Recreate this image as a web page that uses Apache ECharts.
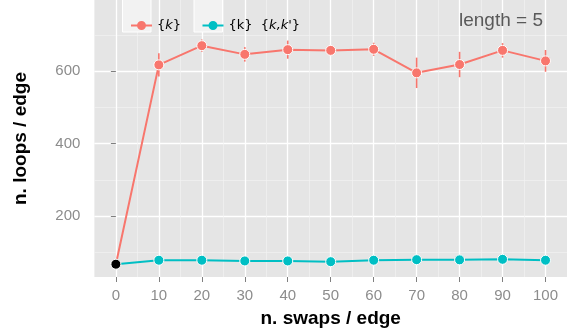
<!DOCTYPE html>
<html>
<head>
<meta charset="utf-8">
<script src="https://cdn.jsdelivr.net/npm/echarts@6/dist/echarts.min.js"></script>
<style>
  html, body { margin: 0; padding: 0; background: #ffffff; }
  #chart { width: 567px; height: 336px; }
</style>
</head>
<body>
<div id="chart"></div>
<script>
// Swaps per edge (x) and mean loops per edge with spread, per null model
var swaps = [0, 10, 20, 30, 40, 50, 60, 70, 80, 90, 100];
var loopsK = [67, 617, 670, 646, 659, 657, 660, 595, 618, 657, 628];
var errK = [0, 32, 17, 20, 25, 10, 18, 42, 35, 20, 30];
var loopsKK = [67, 78, 78, 76, 76, 74, 78, 79.5, 79, 80.5, 78];
var errKK = [0, 3, 3, 3, 3, 3, 3, 3, 3, 3, 3];

var xMajor = [0, 10, 20, 30, 40, 50, 60, 70, 80, 90, 100];
var xMinor = [5, 15, 25, 35, 45, 55, 65, 75, 85, 95];
var yMajor = [200, 400, 600];
var yMinor = [100, 300, 500, 700];

var RED = '#F8766D';
var CYAN = '#00BFC4';
var FONT = 'Liberation Sans, Arial, Helvetica, sans-serif';
var LEGEND_FONT = 'DejaVu Sans, Verdana, sans-serif';
// legend key glyph: a short line with a dot in the middle
var KEY_ICON = 'path://M0,4.1 L21,4.1 L21,5.9 L0,5.9 Z M15,5 A4.5,4.5 0 1 1 6,5 A4.5,4.5 0 1 1 15,5 Z';

function pointData(vals) {
  return swaps.map(function (s, i) {
    var d = { value: [s, vals[i]] };
    if (i === 0) d.itemStyle = { color: '#000000' };
    return d;
  });
}

function errData(vals, errs) {
  return swaps.map(function (s, i) { return [s, vals[i] - errs[i], vals[i] + errs[i]]; });
}

function errorBars(color) {
  return function (params, api) {
    var lo = api.coord([api.value(0), api.value(1)]);
    var hi = api.coord([api.value(0), api.value(2)]);
    return {
      type: 'line',
      shape: { x1: lo[0], y1: lo[1], x2: hi[0], y2: hi[1] },
      style: { stroke: color, lineWidth: 1.6 }
    };
  };
}

function legendText() {
  return { fontFamily: LEGEND_FONT, fontSize: 13, color: '#000',
    rich: { i: { fontStyle: 'italic', fontSize: 13, fontFamily: LEGEND_FONT, color: '#000' } } };
}

var chart = echarts.init(document.getElementById('chart'), null, { renderer: 'canvas' });

chart.setOption({
  animation: false,
  textStyle: { fontFamily: FONT },
  grid: {
    left: 94.4, top: 0, width: 476.6, height: 277,
    show: true, backgroundColor: '#e5e5e5', borderWidth: 0
  },
  title: {
    text: 'length = 5', right: 19, top: 6,
    textStyle: { fontFamily: FONT, fontSize: 19, fontWeight: 'normal', color: '#595959' }
  },
  graphic: [
    { type: 'rect', shape: { x: 122.5, y: -1, width: 28.5, height: 33 },
      style: { fill: '#f2f2f2', stroke: '#ffffff', lineWidth: 1 }, z: 1 },
    { type: 'rect', shape: { x: 194, y: -1, width: 28.5, height: 33 },
      style: { fill: '#f2f2f2', stroke: '#ffffff', lineWidth: 1 }, z: 1 }
  ],
  legend: [
    {
      data: [{ name: '{k}', icon: KEY_ICON, itemStyle: { color: RED, borderWidth: 0 } }],
      left: 126, top: 14, itemWidth: 21, itemHeight: 10, itemGap: 0,
      textStyle: legendText(),
      formatter: function () { return '{' + '{i|k}' + '}'; },
      z: 5
    },
    {
      data: [{ name: "{k}  {k,k'}", icon: KEY_ICON, itemStyle: { color: CYAN, borderWidth: 0 } }],
      left: 197.5, top: 14, itemWidth: 21, itemHeight: 10, itemGap: 0,
      textStyle: legendText(),
      formatter: function () { return '{k}  {' + "{i|k,k'}" + '}'; },
      z: 5
    }
  ],
  xAxis: [
    {
      type: 'value', min: -5, max: 105, gridIndex: 0,
      name: 'n. swaps / edge', nameLocation: 'middle', nameGap: 32,
      nameTextStyle: { fontFamily: FONT, fontSize: 19, fontWeight: 'bold', color: '#000' },
      axisLine: { show: false },
      axisTick: { show: true, length: 5, customValues: xMajor, lineStyle: { color: '#7f7f7f', width: 1 } },
      axisLabel: { customValues: xMajor, margin: 11, fontSize: 15, color: '#8c8c8c', fontFamily: FONT },
      splitLine: { show: true, lineStyle: { color: '#ffffff', width: 1.3 } }
    },
    {
      type: 'value', min: -5, max: 105, gridIndex: 0,
      axisLine: { show: false },
      axisTick: { show: false, customValues: xMinor },
      axisLabel: { show: false },
      splitLine: { show: true, lineStyle: { color: '#f2f2f2', width: 0.7 } }
    }
  ],
  yAxis: [
    {
      type: 'value', min: 31.7, max: 796, gridIndex: 0,
      name: 'n. loops / edge', nameLocation: 'middle', nameGap: 64, nameRotate: 90,
      nameTextStyle: { fontFamily: FONT, fontSize: 19, fontWeight: 'bold', color: '#000' },
      axisLine: { show: false },
      axisTick: { show: true, length: 5, customValues: yMajor, lineStyle: { color: '#7f7f7f', width: 1 } },
      axisLabel: { customValues: yMajor, margin: 14, fontSize: 15, color: '#8c8c8c', fontFamily: FONT },
      splitLine: { show: true, lineStyle: { color: '#ffffff', width: 1.3 } }
    },
    {
      type: 'value', min: 31.7, max: 796, gridIndex: 0,
      axisLine: { show: false },
      axisTick: { show: false, customValues: yMinor },
      axisLabel: { show: false },
      splitLine: { show: true, lineStyle: { color: '#f2f2f2', width: 0.7 } }
    }
  ],
  series: [
    {
      type: 'custom', name: 'errK', renderItem: errorBars(RED),
      data: errData(loopsK, errK), encode: { x: 0, y: [1, 2] }, z: 2, silent: true
    },
    {
      type: 'custom', name: 'errKK', renderItem: errorBars(CYAN),
      data: errData(loopsKK, errKK), encode: { x: 0, y: [1, 2] }, z: 2, silent: true
    },
    {
      type: 'line', name: '{k}', data: pointData(loopsK),
      symbol: 'circle', symbolSize: 10,
      lineStyle: { color: RED, width: 2 },
      itemStyle: { color: RED, borderColor: '#ffffff', borderWidth: 1 },
      z: 3
    },
    {
      type: 'line', name: "{k}  {k,k'}", data: pointData(loopsKK),
      symbol: 'circle', symbolSize: 10,
      lineStyle: { color: CYAN, width: 2 },
      itemStyle: { color: CYAN, borderColor: '#ffffff', borderWidth: 1 },
      z: 4
    }
  ]
});
</script>
</body>
</html>
